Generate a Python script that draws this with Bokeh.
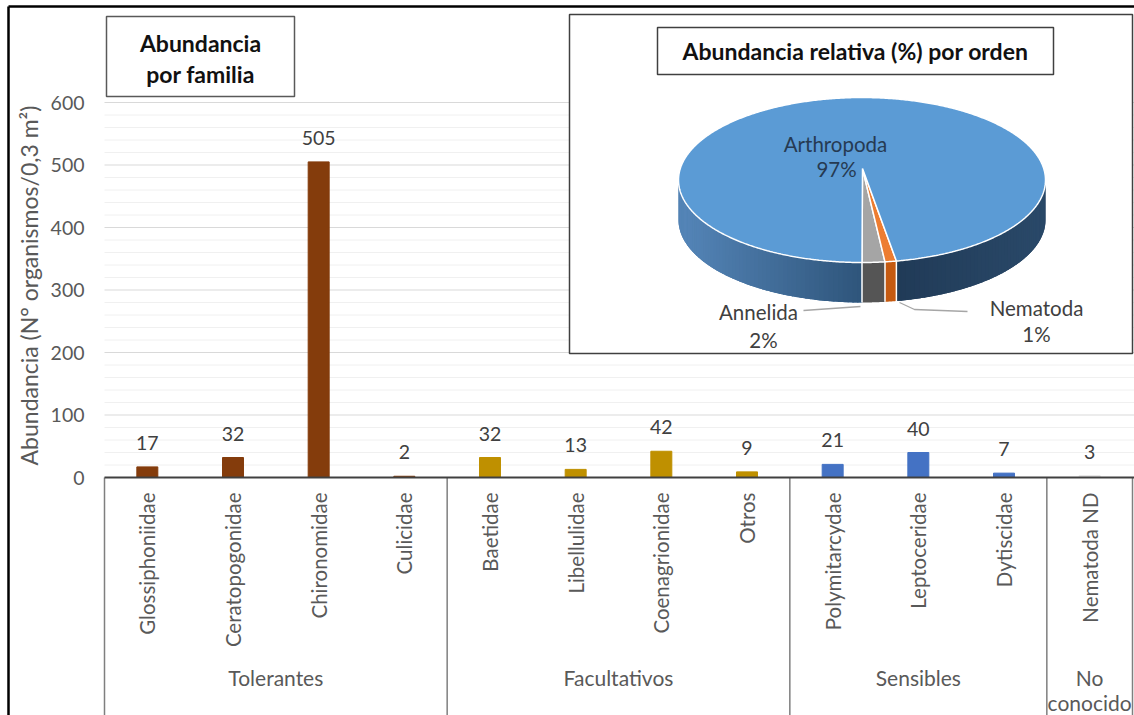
import numpy as np
from bokeh.plotting import figure
from bokeh.models import Range1d, ColumnDataSource
from bokeh.core.properties import value
from bokeh.embed import file_html
from bokeh.resources import INLINE

# ---- data -------------------------------------------------------------
families = ["Glossiphoniidae", "Ceratopogonidae", "Chironomidae", "Culicidae",
            "Baetidae", "Libellulidae", "Coenagrionidae", "Otros",
            "Polymitarcydae", "Leptoceridae", "Dytiscidae", "Nematoda ND"]
abundance = [17, 32, 505, 2, 32, 13, 42, 9, 21, 40, 7, 3]
groups = ["Tolerantes", "Facultativos", "Sensibles", "No\nconocido"]
group_sizes = [4, 4, 3, 1]
group_colors = ["#843C0C", "#BF9000", "#4472C4", "#E7E6E6"]
y_ticks = [0, 100, 200, 300, 400, 500, 600]
y_minor_step = 20

orders = ["Annelida", "Nematoda", "Arthropoda"]
order_pct = [2, 1, 97]
order_top_colors = ["#A5A5A5", "#ED7D31", "#5B9BD5"]

# ---- layout constants (pixels) ---------------------------------------
W, H = 1134, 715
X0, X1 = 104, 1132                 # category band
CAT_W = (X1 - X0) / len(families)
Y_ZERO = 477                       # pixel row of value 0
PX_PER_UNIT = 0.625                # pixels per organism
FONT = value("Lato")
GREY_TXT = "#595959"

p = figure(width=W, height=H, title=None,
           x_range=Range1d(-X0 / CAT_W, (W - X0) / CAT_W),
           y_range=Range1d(-(H - Y_ZERO) / PX_PER_UNIT, Y_ZERO / PX_PER_UNIT),
           x_axis_type=None, y_axis_type=None,
           min_border=0, outline_line_color=None,
           output_backend="svg", toolbar_location=None)
p.extra_x_ranges = {"px": Range1d(0, W)}
p.extra_y_ranges = {"py": Range1d(H, 0)}

# ---- grid lines --------------------------------------------------------
minor = [v for v in range(0, y_ticks[-1] + 1, y_minor_step) if v not in y_ticks]
p.segment(x0=X0, x1=W, y0=minor, y1=minor, x_range_name="px",
          line_color="#F0F0F0", line_width=1)
p.segment(x0=X0, x1=W, y0=y_ticks[1:], y1=y_ticks[1:], x_range_name="px",
          line_color="#D9D9D9", line_width=1)

# ---- bars ---------------------------------------------------------------
bar_colors = [c for c, n in zip(group_colors, group_sizes) for _ in range(n)]
xpos = [i + 0.5 for i in range(len(families))]
src = ColumnDataSource(dict(x=xpos, top=abundance, color=bar_colors,
                            label=[str(v) for v in abundance], name=families))
p.vbar(x="x", top="top", width=0.245, fill_color="color", line_color="color",
       source=src)
p.text(x="x", y="top", text="label", source=src, y_offset=-17,
       text_align="center", text_baseline="bottom", text_font=FONT,
       text_font_size="19.5px", text_color="#404040")

# ---- category axis with group boxes ------------------------------------
p.text(x="x", y=492, text="name", source=src, y_range_name="py",
       angle=np.pi / 2, text_align="right", text_baseline="middle",
       text_font=FONT, text_font_size="20.5px", text_color=GREY_TXT)

bounds = np.concatenate([[0], np.cumsum(group_sizes)])
p.segment(x0=bounds, x1=bounds, y0=0, y1=-(H - Y_ZERO) / PX_PER_UNIT,
          line_color="#7F7F7F", line_width=1.5)
p.segment(x0=X0, x1=W, y0=0, y1=0, x_range_name="px",
          line_color="#404040", line_width=1.8)

gx, gy, gt = [], [], []
for k, g in enumerate(groups):
    centre = (bounds[k] + bounds[k + 1]) / 2
    for j, line in enumerate(g.split("\n")):
        gx.append(centre)
        gy.append(677 + 25 * j)
        gt.append(line)
p.text(x=gx, y=gy, text=gt, y_range_name="py", text_align="center",
       text_baseline="middle", text_font=FONT, text_font_size="21px",
       text_color=GREY_TXT)

# ---- value axis -------------------------------------------------------
p.text(x=84, y=y_ticks, text=[str(t) for t in y_ticks], x_range_name="px",
       text_align="right", text_baseline="middle", text_font=FONT,
       text_font_size="19.5px", text_color=GREY_TXT)
p.text(x=[28], y=[285], text=["Abundancia (N° organismos/0,3 m²)"],
       x_range_name="px", y_range_name="py", angle=np.pi / 2,
       text_align="center", text_baseline="middle", text_font=FONT,
       text_font_size="23px", text_color=GREY_TXT)

# ---- frame lines -------------------------------------------------------
p.segment(x0=[8, 8], y0=[6, 6], x1=[W, 8], y1=[6, H], x_range_name="px",
          y_range_name="py", line_color="#000000", line_width=2.5)

# ---- title box ---------------------------------------------------------
p.quad(left=106, right=294, top=16, bottom=96, x_range_name="px",
       y_range_name="py", fill_color="white", line_color="#595959",
       line_width=1.5)
p.text(x=[200, 200], y=[42, 73], text=["Abundancia", "por familia"],
       x_range_name="px", y_range_name="py", text_align="center",
       text_baseline="middle", text_font=FONT, text_font_style="bold",
       text_font_size="23px", text_color="#111111")

# ---- inset: relative abundance by order (3-D pie) ----------------------
p.quad(left=569, right=1132, top=14, bottom=353, x_range_name="px",
       y_range_name="py", fill_color="white", line_color="#404040",
       line_width=1.5)
p.quad(left=657, right=1053, top=27, bottom=74, x_range_name="px",
       y_range_name="py", fill_color="white", line_color="#404040",
       line_width=1.5)
p.text(x=[855], y=[50], text=["Abundancia relativa (%) por orden"],
       x_range_name="px", y_range_name="py", text_align="center",
       text_baseline="middle", text_font=FONT, text_font_style="bold",
       text_font_size="23px", text_color="#111111")

cx, cy, rx, ry, depth = 861.5, 179.5, 183.5, 82.5, 40
apex = (862, 168)


def ell(t_deg, dy=0.0):
    t = np.radians(t_deg)
    return cx + rx * np.cos(t), cy - ry * np.sin(t) + dy


def hexmix(c0, c1, f):
    f = min(max(f, 0.0), 1.0)
    a = np.array([int(c0[i:i + 2], 16) for i in (1, 3, 5)])
    b = np.array([int(c1[i:i + 2], 16) for i in (1, 3, 5)])
    c = np.round(a + (b - a) * f).astype(int)
    return "#%02x%02x%02x" % tuple(c)


def side_color(name, xm):
    if name == "Arthropoda":
        if xm < cx:
            return hexmix("#5586B9", "#2F557B", (xm - (cx - rx)) / rx)
        return hexmix("#1E3753", "#2A4969", (xm - cx) / rx)
    return {"Annelida": "#555555", "Nematoda": "#C55A11"}[name]


def band(t0, t1, n=4):
    tt = np.linspace(t0, t1, n)
    upper = [ell(t) for t in tt]
    lower = [ell(t, depth) for t in tt[::-1]]
    pts = upper + lower
    return [q[0] for q in pts], [q[1] for q in pts], np.mean([q[0] for q in upper])


angles = -90 + np.concatenate([[0], np.cumsum(order_pct)]) * 3.6
base_xs, base_ys, base_cols = [], [], []
side_xs, side_ys, side_cols = [], [], []
top_xs, top_ys = [], []
for k, name in enumerate(orders):
    a0, a1 = angles[k], angles[k + 1]
    # visible front band lies between -180 and 0 degrees
    for lo, hi in ((a0, a1), (a0 - 360, a1 - 360)):
        s, e = max(lo, -180), min(hi, 0)
        if e <= s:
            continue
        bx, by, bm = band(s, e, 60)
        base_xs.append(bx); base_ys.append(by)
        base_cols.append(side_color(name, bm))
        if name != "Arthropoda":
            continue
        n = max(1, int(np.ceil((e - s) / 1.5)))
        ts = np.linspace(s, e, n + 1)
        for i in range(n):
            sx, sy, sm = band(ts[i], min(ts[i + 1] + 0.4, e))
            side_xs.append(sx); side_ys.append(sy)
            side_cols.append(side_color(name, sm))
    ts = np.linspace(a0, a1, max(3, int((a1 - a0) * 2)))
    pts = [apex] + [ell(t) for t in ts]
    top_xs.append([q[0] for q in pts])
    top_ys.append([q[1] for q in pts])

p.patches(xs=base_xs, ys=base_ys, fill_color=base_cols, line_color=None,
          x_range_name="px", y_range_name="py")
p.patches(xs=side_xs, ys=side_ys, fill_color=side_cols, line_color=None,
          x_range_name="px", y_range_name="py")
for a in angles[:3]:
    (xa, ya), (xb, yb) = ell(a), ell(a, depth)
    p.line(x=[xa, xb], y=[ya, yb], line_color="white", line_width=1.5,
           x_range_name="px", y_range_name="py")
p.patches(xs=top_xs, ys=top_ys, fill_color=order_top_colors,
          line_color="white", line_width=1.5, x_range_name="px",
          y_range_name="py")

# leader lines
p.line(x=[803, 860], y=[310, 306], line_color="#A6A6A6", line_width=1.3,
       x_range_name="px", y_range_name="py")
p.line(x=[899, 914, 967], y=[302, 309, 311], line_color="#A6A6A6",
       line_width=1.3, x_range_name="px", y_range_name="py")

lab_pos = {"Annelida": ((758, 311), (763, 339)),
           "Nematoda": ((1036, 307), (1036, 333)),
           "Arthropoda": ((835, 143), (836, 168))}
lx, ly, lt, lc = [], [], [], []
for name, pct in zip(orders, order_pct):
    (x1, y1), (x2, y2) = lab_pos[name]
    col = "#263A52" if name == "Arthropoda" else "#404040"
    lx += [x1, x2]; ly += [y1, y2]; lt += [name, f"{pct}%"]; lc += [col, col]
p.text(x=lx, y=ly, text=lt, text_color=lc, x_range_name="px",
       y_range_name="py", text_align="center", text_baseline="middle",
       text_font=FONT, text_font_size="20.5px")

open("out.html", "w").write(file_html(p, INLINE))
